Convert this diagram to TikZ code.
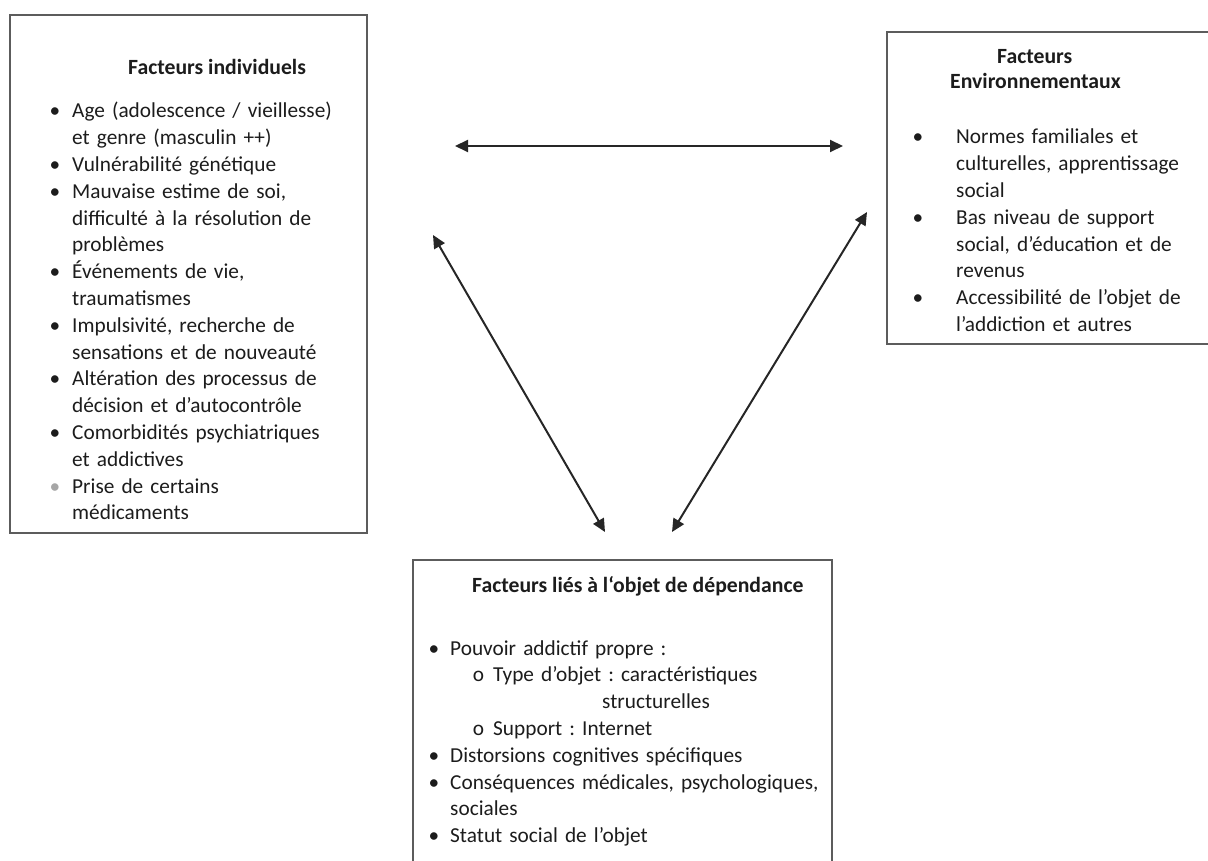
\documentclass[tikz,border=0pt]{standalone}
\usepackage{fontspec}
\setmainfont{Carlito}
\usepackage{enumitem}
\usetikzlibrary{positioning, arrows.meta}
\definecolor{boxGray}{HTML}{5C5C5C}
\definecolor{arrowGray}{HTML}{262626}
\definecolor{txtDark}{HTML}{1C1C1C}
\frenchspacing

\begin{document}
\begin{tikzpicture}[x=1pt, y=-1pt,
    font=\fontsize{21.3}{26.8}\selectfont, text=txtDark,
    box/.style={draw=boxGray, line width=2.2pt, inner sep=0pt},
    titre/.style={anchor=base west, inner sep=0pt, font=\fontsize{21.7}{26.8}\selectfont\bfseries},
    liste/.style={anchor=north west, inner sep=0pt, text width=#1, align=left},
    link/.style={{Triangle[length=13pt,width=12pt]}-{Triangle[length=13pt,width=12pt]},
      arrowGray, line width=2pt}]
    \useasboundingbox (0,0) rectangle (1208,861);
    % --- the three boxes ---
    \node[box, minimum width=357pt, minimum height=518pt] (indiv) at (188.5,274) {};
    \node[box, minimum width=343pt, minimum height=312pt] (envir) at (1058.5,188) {};
    \node[box, minimum width=419pt, minimum height=340pt] (objet) at (622.5,730) {};
    % --- individual factors ---
    \node[titre] (tIndiv) at (128,75) {Facteurs individuels};
    \node[liste=320pt] (lIndiv) at (53,91) {%
      \begin{itemize}[nosep, leftmargin=19pt, labelsep=12pt, label=\textbullet]
        \item Age (adolescence / vieillesse)\\ et genre (masculin ++)
        \item Vulnérabilité génétique
        \item Mauvaise estime de soi,\\ difficulté à la résolution de\\ problèmes
        \item Événements de vie,\\ traumatismes
        \item Impulsivité, recherche de\\ sensations et de nouveauté
        \item Altération des processus de\\ décision et d’autocontrôle
        \item Comorbidités psychiatriques\\ et addictives
        \item[\textcolor{gray!70}{\textbullet}] Prise de certains\\ médicaments
      \end{itemize}};
    % --- environmental factors ---
    \node[titre] (tEnvir1) at (997,64) {Facteurs};
    \node[titre] (tEnvir2) at (950,89) {Environnementaux};
    \node[liste=285pt] (lEnvir) at (918,117) {%
      \begin{itemize}[nosep, leftmargin=38pt, labelsep=33pt, label=\textbullet]
        \item Normes familiales et\\ culturelles, apprentissage\\ social
        \item Bas niveau de support\\ social, d’éducation et de\\ revenus
        \item Accessibilité de l’objet de\\ l’addiction et autres
      \end{itemize}};
    % --- object factors ---
    \node[titre] (tObjet) at (472,592) {Facteurs liés à l‘objet de dépendance};
    \node[liste=395pt] (lObjet) at (433,628) {%
      \begin{itemize}[nosep, leftmargin=17pt, labelsep=11pt, label=\textbullet]
        \item Pouvoir addictif propre :
          \begin{itemize}[nosep, leftmargin=43pt, labelsep=9pt, label=o]
            \item Type d’objet : caractéristiques\\ \hspace*{109pt}structurelles
            \item Support : Internet
          \end{itemize}
        \item Distorsions cognitives spécifiques
        \item Conséquences médicales, psychologiques,\\ sociales
        \item Statut social de l’objet
      \end{itemize}};
    % --- links between the factors ---
    \coordinate (hG) at (455,146);
    \coordinate (hD) at (843,146);
    \coordinate (gH) at (433,235);
    \coordinate (gB) at (605,532);
    \coordinate (dH) at (867,212);
    \coordinate (dB) at (672,532);
    \draw[link] (hG) -- (hD);
    \draw[link] (gH) -- (gB);
    \draw[link] (dH) -- (dB);
\end{tikzpicture}
\end{document}
